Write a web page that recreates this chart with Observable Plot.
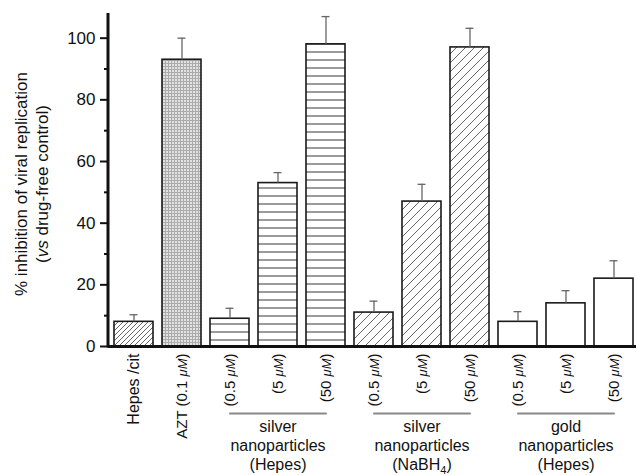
<!DOCTYPE html>
<html><head><meta charset="utf-8">
<script src="https://cdn.jsdelivr.net/npm/d3@7"></script>
<script src="https://cdn.jsdelivr.net/npm/@observablehq/plot@0.6"></script>
<style>body{margin:0;background:#fff}</style>
</head><body><div id="chart"></div>
<script>
const labels = ["Hepes /cit", "AZT (0.1 μM)", "(0.5 μM)", "(5 μM)", "(50 μM)", "(0.5 μM)", "(5 μM)", "(50 μM)", "(0.5 μM)", "(5 μM)", "(50 μM)"];
const values = [8, 93, 9, 53, 98, 11, 47, 97, 8, 14, 22];
const errors = [2.3, 7, 3.4, 3.4, 9, 3.7, 5.6, 6.2, 3.3, 4.1, 5.8];
const patterns = ["hepes", "azt", "agh", "agh", "agh", "agn", "agn", "agn", "au", "au", "au"];
const groupNames = ["silver\nnanoparticles\n(Hepes)", "silver\nnanoparticles\n(NaBH4)", "gold\nnanoparticles\n(Hepes)"];
const groupFirst = [2, 5, 8];
const groupLast = [4, 7, 10];
const groupMid = [3, 6, 9];
const yTicks = [0, 20, 40, 60, 80, 100];
const yMinor = [10, 30, 50, 70, 90];
const yTitle = "% inhibition of viral replication\n(vs drug-free control)";

const idx = d3.range(labels.length);
const fillOf = {hepes: "url(#p-hepes)", azt: "url(#p-azt)", agh: "url(#p-agh)", agn: "url(#p-agn)", au: "white"};
const groupPts = groupFirst.flatMap((f, g) => [{g, i: f}, {g, i: groupLast[g]}]);

const marks = [];
for (const key of Object.keys(fillOf)) {
  marks.push(Plot.barY(idx.filter(i => patterns[i] === key), {
    x: i => i, y: i => values[i], fill: fillOf[key], stroke: "#1a1a1a", strokeWidth: 1.6
  }));
}
marks.push(
  Plot.ruleX(idx, {x: i => i, y1: i => values[i], y2: i => values[i] + errors[i], stroke: "#666", strokeWidth: 1.3}),
  Plot.tickY(idx, {x: i => i, y: i => values[i] + errors[i], stroke: "#666", strokeWidth: 1.3, inset: 15.5}),
  Plot.ruleY([0], {stroke: "#111", strokeWidth: 3}),
  Plot.axisY({ticks: yTicks, tickSize: 8, tickPadding: 5, fontSize: 17, strokeWidth: 2, label: null, tickFormat: d => d}),
  Plot.axisY({ticks: yMinor, tickSize: 4, strokeWidth: 2, label: null, tickFormat: () => ""}),
  Plot.axisX({tickSize: 0, tickRotate: -90, tickPadding: 7, fontSize: 15, label: null, tickFormat: i => labels[i]}),
  Plot.line(groupPts, {x: "i", y: () => 0, z: "g", dy: 67, stroke: "#888", strokeWidth: 2}),
  Plot.text(groupNames, {x: (d, k) => groupMid[k], y: () => 0, text: d => d, dy: 72, lineAnchor: "top", lineHeight: 1.19, fontSize: 16, textAnchor: "middle"}),
  Plot.text([yTitle], {frameAnchor: "left", text: d => d, rotate: -90, dx: -78, dy: 4, fontSize: 17, lineHeight: 1.24, textAnchor: "middle"})
);

const plot = Plot.plot({
  width: 636, height: 475,
  marginLeft: 108, marginRight: 0, marginTop: 13, marginBottom: 129,
  x: {type: "band", domain: idx, range: [108, 638], paddingInner: 0.19, paddingOuter: 0.1, align: 0.5},
  y: {domain: [0, 108]},
  style: {fontFamily: "'Liberation Sans', Arial, Helvetica, sans-serif", fontSize: "16px", color: "#111", background: "white"},
  marks
});
document.getElementById("chart").appendChild(plot);

// patterns
const svg = d3.select(plot);
const defs = svg.insert("defs", ":first-child");
function diag(id, s, color, w) {
  const p = defs.append("pattern").attr("id", id).attr("patternUnits", "userSpaceOnUse").attr("width", s).attr("height", s);
  p.append("rect").attr("width", s).attr("height", s).attr("fill", "white");
  p.append("path").attr("d", `M0,${s}L${s},0M${-s/2},${s/2}L${s/2},${-s/2}M${s/2},${1.5*s}L${1.5*s},${s/2}`)
    .attr("stroke", color).attr("stroke-width", w);
}
diag("p-hepes", 5, "#666", 1);
diag("p-agn", 9, "#666", 1);
{
  const p = defs.append("pattern").attr("id", "p-agh").attr("patternUnits", "userSpaceOnUse").attr("width", 8).attr("height", 8);
  p.append("rect").attr("width", 8).attr("height", 8).attr("fill", "white");
  p.append("line").attr("x1", 0).attr("x2", 8).attr("y1", 4).attr("y2", 4).attr("stroke", "#555").attr("stroke-width", 1.2);
}
{
  const p = defs.append("pattern").attr("id", "p-azt").attr("patternUnits", "userSpaceOnUse").attr("width", 3).attr("height", 3);
  p.append("rect").attr("width", 3).attr("height", 3).attr("fill", "#e2e2e2");
  p.append("rect").attr("width", 3).attr("height", 1).attr("fill", "#ababab");
  p.append("rect").attr("width", 1).attr("height", 3).attr("fill", "#ababab");
}

// y axis line from the library's scales
const ys = plot.scale("y"), xs = plot.scale("x");
svg.append("line")
  .attr("x1", xs.range[0]).attr("x2", xs.range[0])
  .attr("y1", ys.apply(0) + 1.5).attr("y2", ys.apply(ys.domain[1]))
  .attr("stroke", "#111").attr("stroke-width", 3);

// rich text tweaks
const NS = "http://www.w3.org/2000/svg";
function styleSub(el, sub, attrs, afterAttrs) {
  const nodes = Array.from(el.childNodes);
  if (nodes.length !== 1 || nodes[0].nodeType !== 3) return;
  const s = nodes[0].nodeValue, k = s.indexOf(sub);
  if (k < 0) return;
  el.textContent = "";
  el.appendChild(document.createTextNode(s.slice(0, k)));
  const t = document.createElementNS(NS, "tspan");
  for (const [a, v] of Object.entries(attrs)) t.setAttribute(a, v);
  t.textContent = sub;
  el.appendChild(t);
  const rest = s.slice(k + sub.length);
  if (afterAttrs) {
    const r = document.createElementNS(NS, "tspan");
    for (const [a, v] of Object.entries(afterAttrs)) r.setAttribute(a, v);
    r.textContent = rest;
    el.appendChild(r);
  } else el.appendChild(document.createTextNode(rest));
}
svg.selectAll("text, tspan").each(function() {
  if (this.textContent === "Hepes /cit") this.setAttribute("font-size", 16);
  styleSub(this, "μM", {"font-style": "italic", "font-size": 13});
  styleSub(this, "vs", {"font-style": "italic"});
  if (this.textContent === "(NaBH4)") styleSub(this, "4", {"dy": 4, "font-size": 11}, {"dy": -4});
});
</script>
</body></html>
